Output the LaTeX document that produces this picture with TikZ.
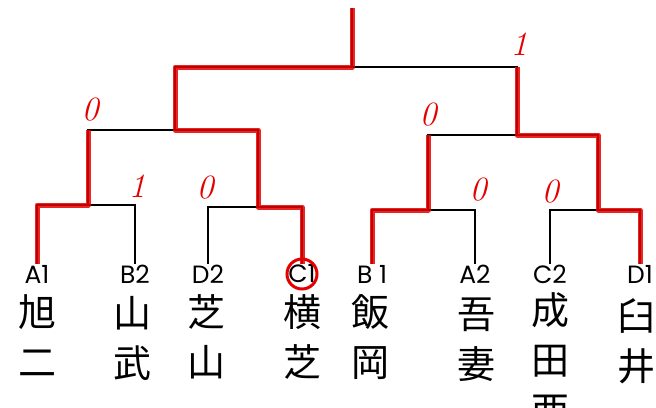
\documentclass[tikz,border=0pt]{standalone}
\usepackage{fontspec}
\setsansfont{Poppins}
\newfontfamily\jpfont{Noto Sans CJK JP}

\begin{document}
\begin{tikzpicture}[x=1pt,y=-1pt]
\tikzset{Seed/.style = {font=\sffamily\fontsize{25}{25}\selectfont, inner sep=1pt},
  School/.style = {font=\jpfont\fontsize{38}{50}\selectfont, align=center, anchor=north, inner sep=0pt},
  Score/.style = {text=red!90!black, font=\fontsize{34}{34}\selectfont\itshape},
  Line/.style = {draw=black, line width=1.1pt},
  Win/.style = {draw=red!90!black, line width=5pt, line join=round, opacity=0.85}}
\useasboundingbox (0,0) rectangle (656,407);
% seeds and schools
\node[Seed] (A1) at (37,274) {A1}; \node[Seed] (B2) at (135,274) {B2}; \node[Seed] (D2) at (208,274) {D2}; \node[Seed] (C1) at (302,274) {C1};
\node[Seed] (B1) at (372,274) {B 1}; \node[Seed] (A2) at (475,274) {A2}; \node[Seed] (C2) at (550,274) {C2}; \node[Seed] (D1) at (640,274) {D1};
\node[School] (n1) at (37,294) {旭\\二}; \node[School] (n2) at (132,296) {山\\武}; \node[School] (n3) at (206,294) {芝\\山}; \node[School] (n4) at (302,294) {横\\芝};
\node[School] (n5) at (370,294) {飯\\岡}; \node[School] (n6) at (476,298) {吾\\妻}; \node[School] (n7) at (550,292) {成\\田\\西}; \node[School] (n8) at (636,298) {臼\\井};
% bracket
\coordinate (q1) at (88,205); \coordinate (q2) at (258,207); \coordinate (q3) at (428,210); \coordinate (q4) at (598,210);
\coordinate (s1) at (175,130); \coordinate (s2) at (517,135); \coordinate (f) at (352,67); \coordinate (top) at (352,8);
\draw[Line] (A1.north) |- (q1) -| (B2.north); \draw[Line] (D2.north) |- (q2) -| (C1.north);
\draw[Line] (B1.north) |- (q3) -| (A2.north); \draw[Line] (C2.north) |- (q4) -| (D1.north);
\draw[Line] (q1) |- (s1) -| (q2); \draw[Line] (q3) |- (s2) -| (q4);
\draw[Line] (s1) |- (f) -| (s2); \draw[Line] (f) -- (top);
% winners
\draw[Win] (A1.north) |- (q1) -- (q1 |- s1);
\draw[Win] (C1.north) |- (q2) |- (s1) |- (f) -- (top);
\draw[Win] (B1.north) |- (q3) -- (q3 |- s2);
\draw[Win] (D1.north) |- (q4) |- (s2) -- (s2 |- f);
\draw[red!90!black, line width=3pt] (C1) circle [radius=15];
% scores
\node[Score] (sc1) at (90,110) {0}; \node[Score] (sc2) at (137,186) {1}; \node[Score] (sc3) at (205,188) {0}; \node[Score] (sc4) at (428,115) {0};
\node[Score] (sc5) at (478,190) {0}; \node[Score] (sc6) at (550,192) {0}; \node[Score] (sc7) at (519,44) {1};
\end{tikzpicture}
\end{document}
